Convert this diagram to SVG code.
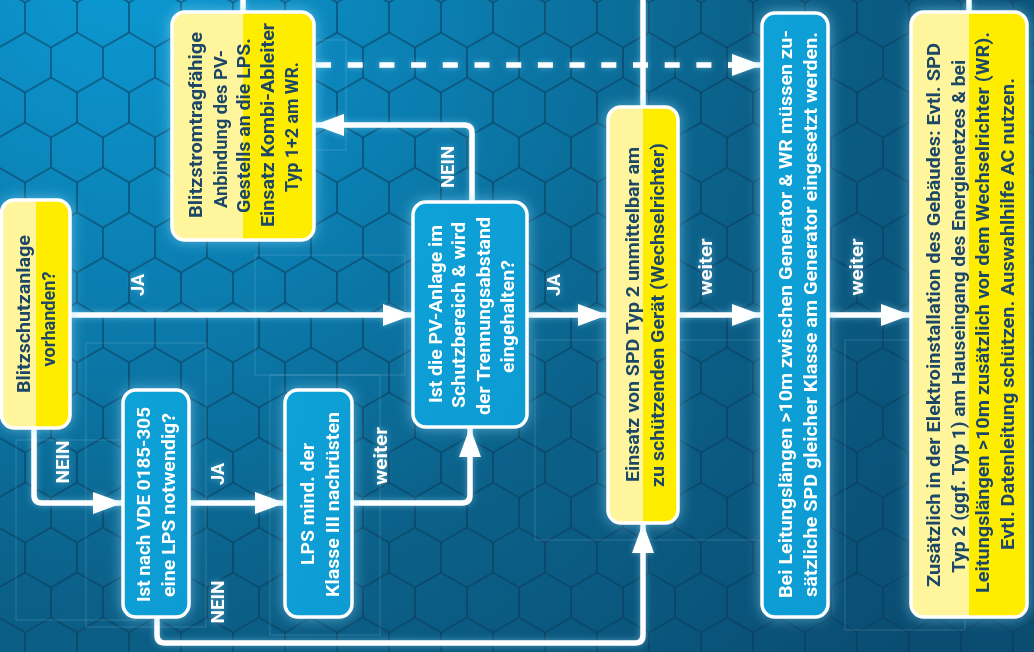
<svg xmlns="http://www.w3.org/2000/svg" width="1034" height="652" viewBox="0 0 1034 652">
<style>
.d{font-family:Roboto,"DejaVu Sans",sans-serif;font-weight:700;font-size:19px;fill:#1c4766;text-anchor:middle}
.w{font-family:Roboto,"DejaVu Sans",sans-serif;font-weight:700;font-size:19px;fill:#ffffff;text-anchor:middle}
.yb{fill:url(#yel);stroke:#ffffff;stroke-width:3.5}
.bb{fill:url(#blu);stroke:#ffffff;stroke-width:3.5}
.c{fill:none;stroke:#ffffff;stroke-width:5.5;stroke-linejoin:round}
.fr{fill:none;stroke:#cfeeff;stroke-width:1;opacity:0.18}
</style>
<defs>
<radialGradient id="bg" gradientUnits="userSpaceOnUse" cx="120" cy="-40" r="1050">
<stop offset="0" stop-color="#0c9ad4"/>
<stop offset="0.3" stop-color="#0b7fb2"/>
<stop offset="0.6" stop-color="#0b6189"/>
<stop offset="1" stop-color="#0a4c72"/>
</radialGradient>
<linearGradient id="yel" x1="0" y1="0" x2="1" y2="0">
<stop offset="0" stop-color="#fff59c"/>
<stop offset="0.5" stop-color="#fff59c"/>
<stop offset="0.5" stop-color="#ffed00"/>
<stop offset="1" stop-color="#ffed00"/>
</linearGradient>
<linearGradient id="blu" x1="0" y1="0" x2="1" y2="1">
<stop offset="0" stop-color="#0aa2d8"/>
<stop offset="1" stop-color="#0a9bd2"/>
</linearGradient>
<pattern id="hex" patternUnits="userSpaceOnUse" width="52" height="90" x="-1" y="17.5">
<path d="M26,0 V15 L0,30 V60 L26,75 V90 M26,15 L52,30 V60 L26,75" fill="none" stroke="#0a3b5a" stroke-width="1.4" opacity="0.8"/>
</pattern>
<filter id="glow" x="-50%" y="-50%" width="200%" height="200%">
<feGaussianBlur in="SourceAlpha" stdDeviation="7" result="b"/>
<feFlood flood-color="#8fe0ff" flood-opacity="0.55"/>
<feComposite in2="b" operator="in" result="g"/>
<feMerge><feMergeNode in="g"/><feMergeNode in="SourceGraphic"/></feMerge>
</filter>
<filter id="lglow" x="-10%" y="-10%" width="120%" height="120%">
<feGaussianBlur in="SourceAlpha" stdDeviation="3" result="b"/>
<feFlood flood-color="#9fe6ff" flood-opacity="0.45"/>
<feComposite in2="b" operator="in" result="g"/>
<feMerge><feMergeNode in="g"/><feMergeNode in="SourceGraphic"/></feMerge>
</filter>
<marker id="ah" markerUnits="userSpaceOnUse" markerWidth="30" markerHeight="22" viewBox="0 0 30 22" refX="30" refY="11" orient="auto">
<path d="M0,0 L30,11 L0,22 Z" fill="#ffffff"/>
</marker>
</defs>

<rect width="1034" height="652" fill="url(#bg)"/>
<rect width="1034" height="652" fill="url(#hex)"/>

<g id="frames">
<rect class="fr" x="86" y="343" width="120" height="284"/>
<rect class="fr" x="16" y="440" width="120" height="180"/>
<rect class="fr" x="256" y="40" width="90" height="110"/>
<rect class="fr" x="255" y="255" width="150" height="120"/>
<rect class="fr" x="270" y="375" width="110" height="260"/>
<rect class="fr" x="535" y="340" width="240" height="200"/>
<rect class="fr" x="845" y="340" width="120" height="290"/>
</g>

<g id="connectors" filter="url(#lglow)">
<path class="c" d="M70,315 H413" marker-end="url(#ah)"/>
<path class="c" d="M527,315 H608" marker-end="url(#ah)"/>
<path class="c" d="M678,315 H762" marker-end="url(#ah)"/>
<path class="c" d="M828,315 H911" marker-end="url(#ah)"/>
<path class="c" d="M34,428 V495 Q34,503 42,503 H123" marker-end="url(#ah)"/>
<path class="c" d="M189,503 H285" marker-end="url(#ah)"/>
<path class="c" d="M352,503 H462 Q470,503 470,495 V427" marker-end="url(#ah)"/>
<path class="c" d="M157,617 V635 Q157,643 165,643 H635 Q643,643 643,635 V523" marker-end="url(#ah)"/>
<path class="c" d="M472,202 V133 Q472,125 464,125 H314" marker-end="url(#ah)"/>
<path class="c" d="M316,65 H730" stroke-dasharray="15 16.7"/>
<path class="c" d="M728,65 H762" marker-end="url(#ah)" stroke-width="0.1"/>
<path class="c" d="M243,0 V12"/>
<path class="c" d="M643,0 V107"/>
<path class="c" d="M969,0 V12"/>
<text class="w" transform="translate(143.5,285) rotate(-90)" textLength="22" lengthAdjust="spacingAndGlyphs">JA</text>
<text class="w" transform="translate(68.5,462) rotate(-90)" textLength="43" lengthAdjust="spacingAndGlyphs">NEIN</text>
<text class="w" transform="translate(223.5,474) rotate(-90)" textLength="22" lengthAdjust="spacingAndGlyphs">JA</text>
<text class="w" transform="translate(223.5,602) rotate(-90)" textLength="43" lengthAdjust="spacingAndGlyphs">NEIN</text>
<text class="w" transform="translate(387,456) rotate(-90)" textLength="58" lengthAdjust="spacingAndGlyphs">weiter</text>
<text class="w" transform="translate(454,167) rotate(-90)" textLength="42" lengthAdjust="spacingAndGlyphs">NEIN</text>
<text class="w" transform="translate(559.5,285) rotate(-90)" textLength="22" lengthAdjust="spacingAndGlyphs">JA</text>
<text class="w" transform="translate(712,267) rotate(-90)" textLength="57" lengthAdjust="spacingAndGlyphs">weiter</text>
<text class="w" transform="translate(863,267) rotate(-90)" textLength="57" lengthAdjust="spacingAndGlyphs">weiter</text>
</g>

<g id="n1" filter="url(#glow)">
<rect class="yb" x="1.5" y="200" width="68.5" height="228" rx="13"/>
<text class="d" transform="translate(30,314) rotate(-90)" textLength="158" lengthAdjust="spacingAndGlyphs">Blitzschutzanlage</text>
<text class="d" transform="translate(54.5,319) rotate(-90)" textLength="95" lengthAdjust="spacingAndGlyphs">vorhanden?</text>
</g>

<g id="n2" filter="url(#glow)">
<rect class="bb" x="123" y="390" width="66" height="227" rx="13"/>
<text class="w" transform="translate(149.5,504.5) rotate(-90)" textLength="195" lengthAdjust="spacingAndGlyphs">Ist nach VDE 0185-305</text>
<text class="w" transform="translate(174.5,505) rotate(-90)" textLength="184" lengthAdjust="spacingAndGlyphs">eine LPS notwendig?</text>
</g>

<g id="n3" filter="url(#glow)">
<rect class="bb" x="285" y="390" width="67" height="227" rx="13"/>
<text class="w" transform="translate(313.5,504) rotate(-90)" textLength="122" lengthAdjust="spacingAndGlyphs">LPS mind. der</text>
<text class="w" transform="translate(338.5,504.5) rotate(-90)" textLength="185" lengthAdjust="spacingAndGlyphs">Klasse III nachrüsten</text>
</g>

<g id="n4" filter="url(#glow)">
<rect class="bb" x="413" y="202" width="114" height="225" rx="13"/>
<text class="w" transform="translate(441.5,314) rotate(-90)" textLength="178" lengthAdjust="spacingAndGlyphs">Ist die PV-Anlage im</text>
<text class="w" transform="translate(465,315) rotate(-90)" textLength="186" lengthAdjust="spacingAndGlyphs">Schutzbereich &amp; wird</text>
<text class="w" transform="translate(489.5,316) rotate(-90)" textLength="198" lengthAdjust="spacingAndGlyphs">der Trennungsabstand</text>
<text class="w" transform="translate(513.5,316.5) rotate(-90)" textLength="113" lengthAdjust="spacingAndGlyphs">eingehalten?</text>
</g>

<g id="n5" filter="url(#glow)">
<rect class="yb" x="172" y="12" width="142" height="228" rx="13"/>
<text class="d" transform="translate(201.5,125) rotate(-90)" textLength="186" lengthAdjust="spacingAndGlyphs">Blitzstromtragfähige</text>
<text class="d" transform="translate(226.5,129) rotate(-90)" textLength="158" lengthAdjust="spacingAndGlyphs">Anbindung des PV-</text>
<text class="d" transform="translate(249.5,125.5) rotate(-90)" textLength="175" lengthAdjust="spacingAndGlyphs">Gestells an die LPS.</text>
<text class="d" transform="translate(273.5,125) rotate(-90)" textLength="204" lengthAdjust="spacingAndGlyphs">Einsatz Kombi-Ableiter</text>
<text class="d" transform="translate(297.5,127) rotate(-90)" textLength="130" lengthAdjust="spacingAndGlyphs">Typ 1+2 am WR.</text>
</g>

<g id="n6" filter="url(#glow)">
<rect class="yb" x="608" y="107" width="70" height="416" rx="13"/>
<text class="d" transform="translate(638.5,314.5) rotate(-90)" textLength="335" lengthAdjust="spacingAndGlyphs">Einsatz von SPD Typ 2 unmittelbar am</text>
<text class="d" transform="translate(663.5,315) rotate(-90)" textLength="344" lengthAdjust="spacingAndGlyphs">zu schützenden Gerät (Wechselrichter)</text>
</g>

<g id="n7" filter="url(#glow)">
<rect class="bb" x="762" y="13" width="66" height="604" rx="13"/>
<text class="w" transform="translate(791.5,314) rotate(-90)" textLength="568" lengthAdjust="spacingAndGlyphs">Bei Leitungslängen &gt;10m zwischen Generator &amp; WR müssen zu-</text>
<text class="w" transform="translate(816.5,314.5) rotate(-90)" textLength="565" lengthAdjust="spacingAndGlyphs">sätzliche SPD gleicher Klasse am Generator eingesetzt werden.</text>
</g>

<g id="n8" filter="url(#glow)">
<rect class="yb" x="911" y="12" width="116" height="605" rx="13"/>
<text class="d" transform="translate(939.5,315) rotate(-90)" textLength="544" lengthAdjust="spacingAndGlyphs">Zusätzlich in der Elektroinstallation des Gebäudes: Evtl. SPD</text>
<text class="d" transform="translate(964.5,316.5) rotate(-90)" textLength="513" lengthAdjust="spacingAndGlyphs">Typ 2 (ggf. Typ 1) am Hauseingang des Energienetzes &amp; bei</text>
<text class="d" transform="translate(988.5,312.5) rotate(-90)" textLength="561" lengthAdjust="spacingAndGlyphs">Leitungslängen &gt;10m zusätzlich vor dem Wechselrichter (WR).</text>
<text class="d" transform="translate(1013.5,314) rotate(-90)" textLength="472" lengthAdjust="spacingAndGlyphs">Evtl. Datenleitung schützen. Auswahlhilfe AC nutzen.</text>
</g>
</svg>
